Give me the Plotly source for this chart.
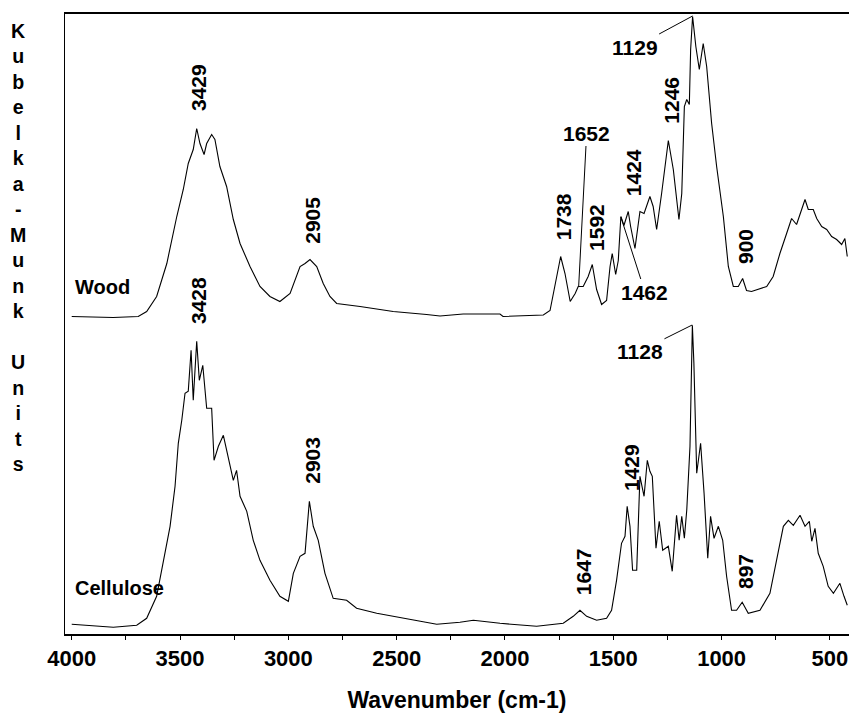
import plotly.graph_objects as go

# ---- data ----
wood_wn = [4000, 3809, 3693, 3654, 3608, 3561, 3515, 3485, 3462, 3439, 3423, 3408, 3389, 3377, 3354, 3339,
           3316, 3285, 3254, 3223, 3177, 3131, 3085, 3039, 2992, 2946, 2923, 2900, 2869, 2839, 2808, 2777,
           2669, 2516, 2362, 2300, 2193, 2023, 2009, 1823, 1792, 1769, 1743, 1723, 1699, 1676, 1662, 1639,
           1616, 1597, 1577, 1554, 1531, 1515, 1505, 1489, 1477, 1465, 1451, 1431, 1420, 1400, 1377, 1358,
           1331, 1316, 1300, 1277, 1246, 1223, 1197, 1184, 1172, 1161, 1149, 1143, 1134, 1119, 1103, 1085,
           1069, 1046, 1023, 992, 969, 946, 923, 903, 885, 862, 792, 762, 731, 700, 677, 654, 638, 615,
           600, 577, 561, 538, 515, 492, 469, 446, 431, 420]
wood_km = [0, -1, 0, 5, 20, 53, 100, 127, 153, 167, 188, 173, 162, 173, 182, 177,
           150, 130, 97, 73, 50, 30, 20, 15, 23, 50, 53, 57, 50, 33, 20, 13,
           10, 5, 2, 0.5, 2.5, 2.5, 0, 1.5, 6, 30, 60, 43, 15, 23, 30, 30,
           40, 52, 27, 12, 16, 50, 63, 42, 56, 100, 91, 105, 90, 68, 105, 103,
           120, 110, 87, 123, 176, 147, 97, 123, 210, 217, 212, 267, 300, 270, 247, 273,
           250, 193, 150, 100, 50, 30, 30, 38, 26, 25, 30, 40, 63, 83, 98, 92, 103, 117,
           107, 107, 98, 90, 87, 80, 77, 72, 78, 60]

cell_wn = [4000, 3916, 3808, 3700, 3654, 3608, 3569, 3546, 3523, 3508, 3492, 3477, 3462, 3449, 3439, 3423,
           3411, 3395, 3377, 3354, 3343, 3323, 3300, 3277, 3254, 3239, 3223, 3192, 3162, 3131, 3085, 3039,
           3000, 2977, 2946, 2923, 2903, 2885, 2862, 2831, 2793, 2731, 2685, 2592, 2539, 2438, 2315, 2208,
           2146, 2023, 1854, 1731, 1685, 1654, 1623, 1577, 1531, 1508, 1485, 1462, 1446, 1436, 1423, 1411,
           1392, 1377, 1358, 1343, 1331, 1320, 1303, 1288, 1272, 1246, 1228, 1208, 1196, 1184, 1172, 1161,
           1146, 1135, 1128, 1115, 1097, 1081, 1064, 1051, 1035, 1015, 995, 977, 954, 931, 905, 877,
           823, 777, 746, 715, 692, 669, 638, 615, 595, 584, 569, 554, 531, 508, 484, 454, 435, 420]
cell_km = [0, -1.5, -3, -1, 6, 28, 71, 98, 138, 181, 204, 231, 233, 274, 224, 283,
           244, 259, 216, 216, 164, 178, 189, 168, 144, 154, 128, 113, 84, 64, 44, 28,
           23, 51, 68, 71, 123, 98, 84, 51, 26, 24, 16, 11, 9, 5, 0, 2,
           4, 1, -2, 1, 8, 14, 8, 4, 6, 14, 44, 81, 88, 118, 98, 54,
           54, 148, 128, 164, 153, 148, 76, 103, 74, 78, 53, 109, 84, 108, 86, 114,
           178, 299, 261, 151, 181, 131, 66, 108, 86, 98, 84, 48, 14, 14, 22, 11,
           14, 31, 64, 98, 104, 99, 109, 98, 103, 83, 96, 71, 58, 38, 31, 41, 28, 19]

x_ticks = [4000, 3500, 3000, 2500, 2000, 1500, 1000, 500]

# vertical stacking offsets of the two spectra
wood_offset = 317.5
cell_offset = 9.7

# peak labels without leader line: text, wavenumber, height
plain_labels = ["3429", "2905", "3428", "1738", "1592", "1424", "1246", "900",
                "2903", "1647", "1429", "897"]
plain_x = [3417, 2892, 3417, 1731, 1580, 1408, 1235, 892, 2892, 1639, 1418, 892]
plain_y = [546, 414, 333, 417, 407, 461, 534, 387, 174, 62, 166, 62]

# labels with leader line: text, tip (x, y), text (x, y)
lead_labels = ["1652", "1129", "1462", "1128"]
lead_tip_x = [1660, 1134, 1465, 1136]
lead_tip_y = [347, 618, 417, 309]
lead_txt_x = [1623, 1400, 1354, 1377]
lead_txt_y = [501, 587, 342, 283]

sample_names = ["Wood", "Cellulose"]
sample_x = [3993, 3993]
sample_y = [347, 46]

FONT = "Liberation Sans, Arial, sans-serif"

fig = go.Figure()
fig.add_trace(go.Scatter(x=wood_wn, y=[v + wood_offset for v in wood_km], mode="lines",
                         line=dict(color="black", width=1.1), name="Wood", showlegend=False))
fig.add_trace(go.Scatter(x=cell_wn, y=[v + cell_offset for v in cell_km], mode="lines",
                         line=dict(color="black", width=1.1), name="Cellulose", showlegend=False))

anns = []
for t, x, y in zip(plain_labels, plain_x, plain_y):
    anns.append(dict(x=x, y=y, xref="x", yref="y", text=t, showarrow=False, textangle=-90,
                     font=dict(family=FONT, size=21, color="black", weight="bold")))
for t, tx, ty, lx, ly in zip(lead_labels, lead_tip_x, lead_tip_y, lead_txt_x, lead_txt_y):
    anns.append(dict(x=tx, y=ty, xref="x", yref="y", ax=lx, ay=ly, axref="x", ayref="y",
                     text=t, showarrow=True, arrowhead=0, arrowwidth=1, arrowcolor="black",
                     standoff=0, startstandoff=0,
                     font=dict(family=FONT, size=21, color="black", weight="bold")))
for t, x, y in zip(sample_names, sample_x, sample_y):
    anns.append(dict(x=x, y=y, xref="x", yref="y", text=t, showarrow=False, xanchor="left",
                     font=dict(family=FONT, size=20, color="black", weight="bold")))

ylabel = "Kubelka-Munk Units"
ylabel_txt = "<br>".join(c if c != " " else "\u00a0" for c in ylabel)
anns.append(dict(x=-0.06, y=0.6234, xref="paper", yref="paper", text=ylabel_txt, showarrow=False,
                 xanchor="center", yanchor="middle", align="center",
                 font=dict(family=FONT, size=19.6, color="black", weight="bold")))

fig.update_layout(
    width=849, height=717,
    margin=dict(l=65, r=0, t=14, b=83),
    paper_bgcolor="white", plot_bgcolor="white",
    annotations=anns,
    showlegend=False,
    xaxis=dict(range=[4031, 412], tickvals=x_ticks, ticktext=[str(v) for v in x_ticks],
               ticks="outside", ticklen=4, tickcolor="black", tickwidth=1,
               minor=dict(dtick=250, tick0=0, ticks="outside", ticklen=4, tickcolor="black"),
               showline=True, linecolor="black", linewidth=1.5, mirror=True,
               showgrid=False, zeroline=False,
               tickfont=dict(family=FONT, size=22, color="black", weight="bold"),
               title=dict(text="Wavenumber (cm-1)", standoff=22,
                          font=dict(family=FONT, size=23, color="black", weight="bold"))),
    yaxis=dict(range=[0, 620], showticklabels=False, ticks="", showgrid=False, zeroline=False,
               showline=True, linecolor="black", linewidth=1),
)

fig.write_html("out.html")
